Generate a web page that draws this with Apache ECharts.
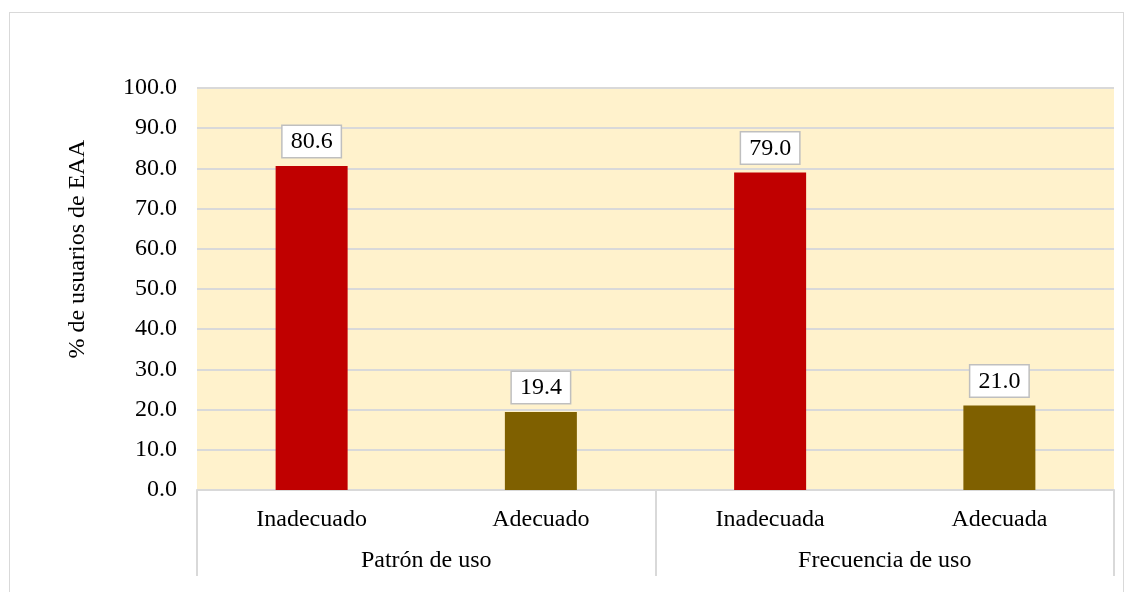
<!DOCTYPE html>
<html><head><meta charset="utf-8">
<script src="https://cdn.jsdelivr.net/npm/echarts@6/dist/echarts.min.js"></script>
<style>
html,body{margin:0;padding:0;background:#fff;}
#frame{position:absolute;left:9px;top:12px;width:1115px;height:600px;border:1px solid #d9d9d9;box-sizing:border-box;}
#chart{position:absolute;left:0;top:0;width:1134px;height:592px;}
</style></head>
<body>
<div id="frame"></div>
<div id="chart"></div>
<script>
const categories = ['Inadecuado', 'Adecuado', 'Inadecuada', 'Adecuada'];
const groups = ['Patrón de uso', 'Frecuencia de uso'];
const values = [80.6, 19.4, 79.0, 21.0];
const barColors = ['#c00000', '#7f6000', '#c00000', '#7f6000'];
const yTitle = '% de usuarios de EAA';

const FONT = '"Liberation Serif", "Times New Roman", serif';
const chart = echarts.init(document.getElementById('chart'), null, {renderer: 'canvas'});
chart.setOption({
  animation: false,
  grid: {left: 197, right: 20, top: 88, bottom: 102, show: true, backgroundColor: '#fff2cc', borderWidth: 0, containLabel: false},
  xAxis: [
    {type: 'category', data: categories, position: 'bottom',
     axisLine: {show: true, lineStyle: {color: '#d9d9d9', width: 2}},
     axisTick: {show: false},
     axisLabel: {color: '#000', fontFamily: FONT, fontSize: 24, margin: 18}},
    {type: 'category', data: groups, position: 'bottom',
     axisLine: {show: false},
     axisTick: {show: true, length: 86, lineStyle: {color: '#d9d9d9', width: 2}},
     axisLabel: {color: '#000', fontFamily: FONT, fontSize: 24, margin: 59}}
  ],
  yAxis: {type: 'value', min: 0, max: 100, interval: 10,
    axisLine: {show: false}, axisTick: {show: false},
    splitLine: {lineStyle: {color: '#d9d9d9', width: 2}},
    axisLabel: {color: '#000', fontFamily: FONT, fontSize: 24, margin: 20, formatter: v => v.toFixed(1)}},
  graphic: [{type: 'text', left: 66, top: 140, rotation: Math.PI / 2,
    style: {text: yTitle, fontFamily: FONT, fontSize: 24, fill: '#000'}}],
  series: [{type: 'bar', xAxisIndex: 0, barWidth: 72,
    data: values.map((v, i) => ({value: v, itemStyle: {color: barColors[i]}})),
    label: {show: true, position: 'top', distance: 9, formatter: p => p.value.toFixed(1),
      fontFamily: FONT, fontSize: 24, color: '#000', backgroundColor: '#fff',
      borderColor: '#bfbfbf', borderWidth: 1.5, padding: [4, 8, 3, 8]}}]
});
</script>
</body></html>
